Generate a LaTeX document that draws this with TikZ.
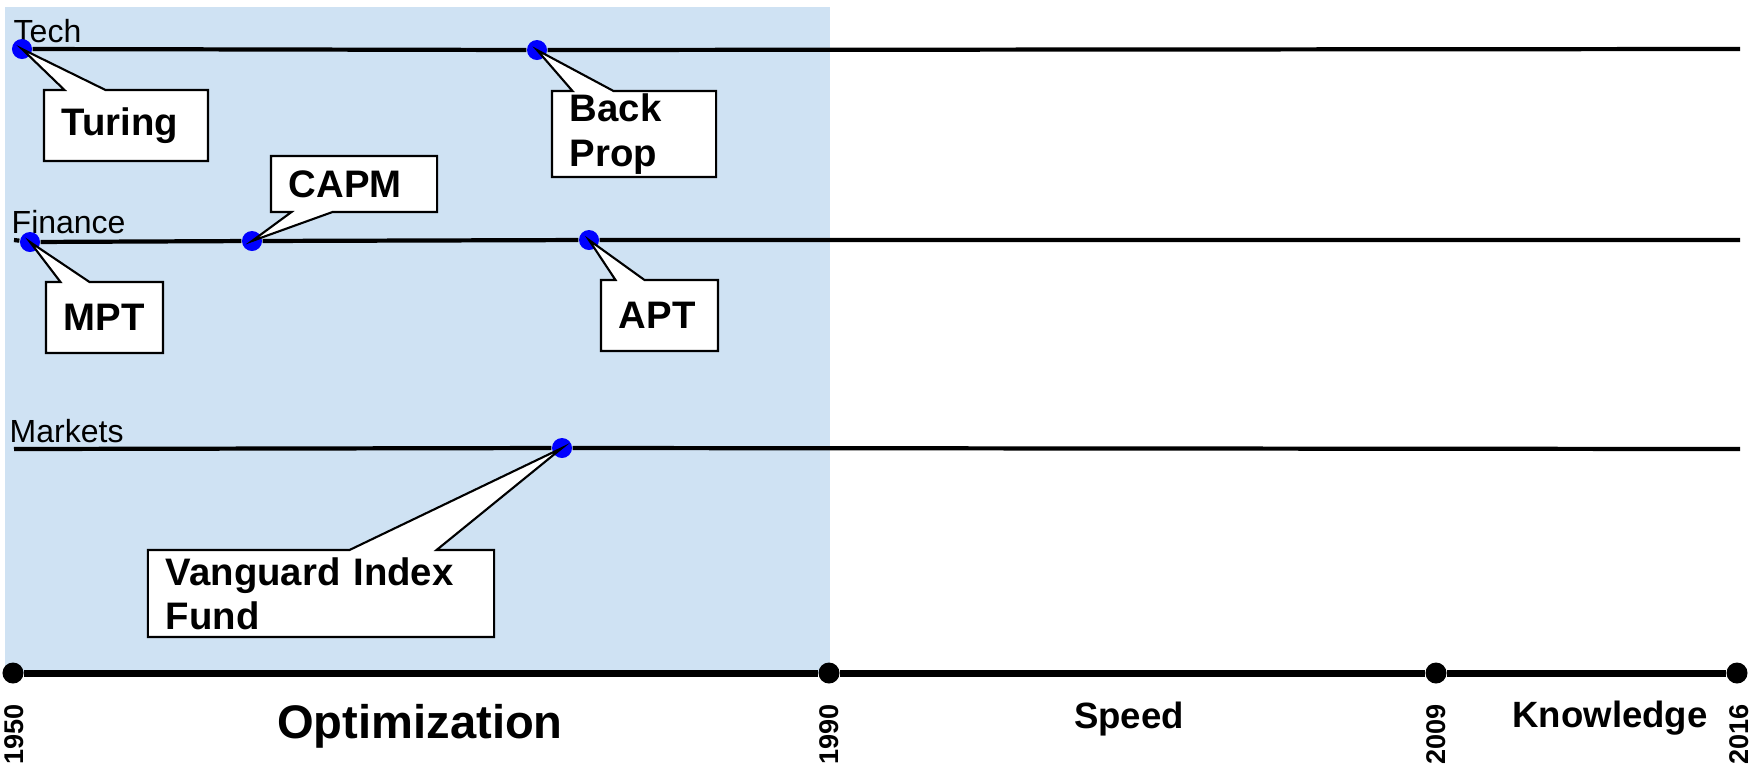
\documentclass[tikz,border=0pt]{standalone}
\usepackage{fontspec}
\setmainfont{Liberation Sans}
\usetikzlibrary{shapes.callouts}

\definecolor{optblue}{RGB}{207,226,243}
\definecolor{eventblue}{RGB}{0,0,255}

\tikzset{
  lane/.style={line width=1.2pt},
  timeline/.style={line width=2pt},
  event/.style={circle, fill=eventblue, inner sep=0pt, minimum size=0.2cm},
  tick/.style={circle, fill=black, inner sep=0pt, minimum size=0.21cm},
  lanelabel/.style={anchor=base west, inner sep=0pt, font=\fontsize{9.1}{10}\selectfont},
  callbox/.style={rectangle callout, draw, fill=white, line width=0.6pt,
    align=left, inner xsep=0.18cm, inner ysep=0pt,
    font=\fontsize{10.9}{12.6}\selectfont\bfseries},
  year/.style={rotate=90, anchor=east, inner sep=0pt, font=\fontsize{7.7}{9}\selectfont\bfseries},
  era/.style={anchor=base, inner sep=0pt, font=\fontsize{10.4}{12}\selectfont\bfseries}
}

\begin{document}
\begin{tikzpicture}[x=0.01cm, y=-0.01cm]
    \useasboundingbox (0,0) rectangle (1752,766);
    \fill[optblue] (5,7) rectangle (830,673);

    % lanes
    \node[lanelabel] (tech) at (13,42) {Tech};
    \node[lanelabel] (finance) at (11,233) {Finance};
    \node[lanelabel] (markets) at (9,442) {Markets};

    \coordinate (techend) at (1740,49);
    \coordinate (financestart) at (14,240);
    \coordinate (financeend) at (1740,240);
    \coordinate (marketsstart) at (14,449);
    \coordinate (marketsend) at (1740,449);

    \node[event] (turingdot) at (22,49) {};
    \node[event] (backpropdot) at (537,50) {};
    \node[event] (mptdot) at (30,242) {};
    \node[event] (capmdot) at (252,241) {};
    \node[event] (aptdot) at (589,240) {};
    \node[event] (vanguarddot) at (562,448) {};

    \draw[lane] (turingdot) -- (backpropdot) -- (techend);
    \draw[lane] (financestart) -- (mptdot) -- (capmdot) -- (aptdot) -- (financeend);
    \draw[lane] (marketsstart) -- (vanguarddot) -- (marketsend);

    % callouts
    \node[callbox, text width=1.28cm, minimum height=0.71cm, callout pointer width=0.41cm,
      callout absolute pointer={(turingdot.center)}] (turing) at (126,125.5) {Turing};
    \node[callbox, text width=1.28cm, minimum height=0.86cm, callout pointer width=0.41cm,
      callout absolute pointer={(backpropdot.center)}] (backprop) at (634,134) {Back\\Prop};
    \node[callbox, text width=1.30cm, minimum height=0.56cm, callout pointer width=0.41cm,
      callout absolute pointer={(capmdot.center)}] (capm) at (354,184) {CAPM};
    \node[callbox, text width=0.81cm, minimum height=0.71cm, callout pointer width=0.29cm,
      callout absolute pointer={(mptdot.center)}] (mpt) at (104.5,317.5) {MPT};
    \node[callbox, text width=0.81cm, minimum height=0.71cm, callout pointer width=0.29cm,
      callout absolute pointer={(aptdot.center)}] (apt) at (659.5,315.5) {APT};
    \node[callbox, text width=3.10cm, minimum height=0.87cm, callout pointer width=0.87cm,
      callout absolute pointer={(vanguarddot.center)}] (vanguard) at (321,593.5) {Vanguard Index\\Fund};

    % time axis
    \node[tick] (t1950) at (13,673) {};
    \node[tick] (t1990) at (829,673) {};
    \node[tick] (t2009) at (1436,673) {};
    \node[tick] (t2016) at (1737,673) {};
    \draw[timeline] (t1950) -- (t1990) -- (t2009) -- (t2016);

    \node[year] (y1950) at (14,704) {1950};
    \node[year] (y1990) at (829,704) {1990};
    \node[year] (y2009) at (1436,704) {2009};
    \node[year] (y2016) at (1739,704) {2016};

    \node[era, font=\fontsize{13.4}{15}\selectfont\bfseries] (optimization) at (420,738) {Optimization};
    \node[era] (speed) at (1129,728) {Speed};
    \node[era] (knowledge) at (1610,727) {Knowledge};
\end{tikzpicture}
\end{document}
